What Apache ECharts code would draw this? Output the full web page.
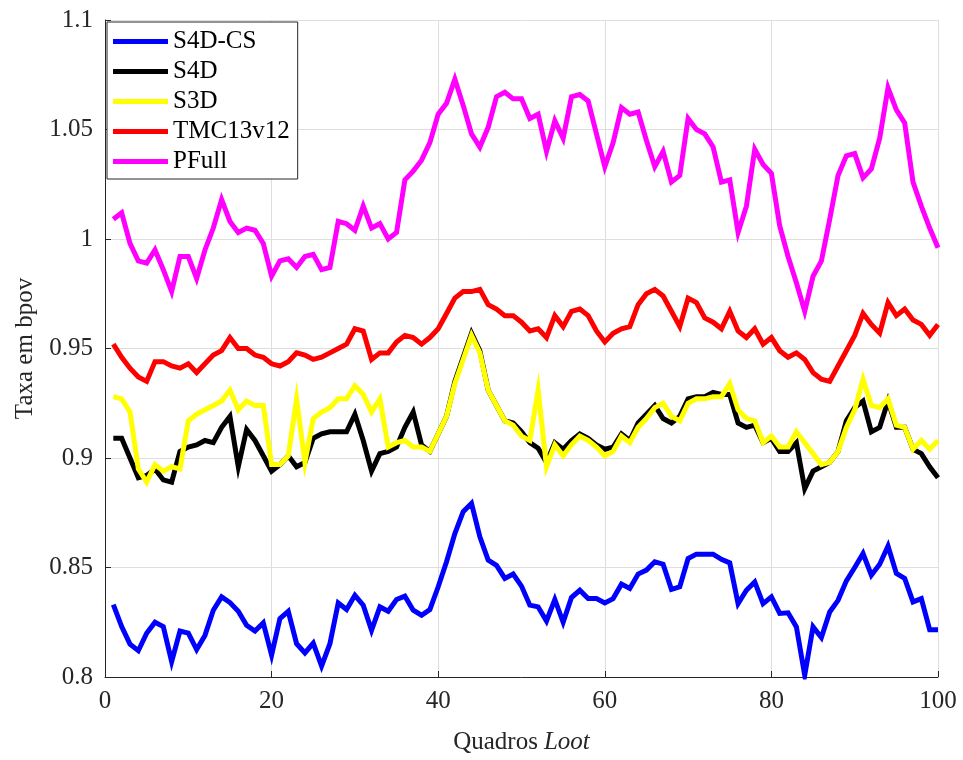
<!DOCTYPE html>
<html>
<head>
<meta charset="utf-8">
<script src="https://cdn.jsdelivr.net/npm/echarts@6/dist/echarts.min.js"></script>
<style>
html,body{margin:0;padding:0;background:#fff;}
#chart{width:963px;height:760px;}
</style>
</head>
<body>
<div id="chart"></div>
<script>
const frames = [1,2,3,4,5,6,7,8,9,10,11,12,13,14,15,16,17,18,19,20,21,22,23,24,25,26,27,28,29,30,31,32,33,34,35,36,37,38,39,40,41,42,43,44,45,46,47,48,49,50,51,52,53,54,55,56,57,58,59,60,61,62,63,64,65,66,67,68,69,70,71,72,73,74,75,76,77,78,79,80,81,82,83,84,85,86,87,88,89,90,91,92,93,94,95,96,97,98,99,100];

const s4dcs = [0.833,0.823,0.815,0.812,0.820,0.825,0.823,0.807,0.821,0.820,0.8125,0.819,0.8305,0.8366,0.834,0.830,0.8236,0.821,0.8247,0.810,0.8267,0.830,0.8152,0.811,0.8155,0.805,0.8152,0.8338,0.8308,0.8373,0.8328,0.8213,0.832,0.830,0.8354,0.8369,0.8305,0.8282,0.8308,0.8412,0.8526,0.8655,0.8755,0.8793,0.864,0.8534,0.851,0.845,0.847,0.8415,0.8328,0.832,0.8256,0.8354,0.825,0.8363,0.8396,0.8358,0.8358,0.8338,0.8358,0.8424,0.8404,0.847,0.8488,0.8526,0.8515,0.840,0.8412,0.8541,0.8561,0.8561,0.8561,0.8537,0.8521,0.8335,0.8396,0.8434,0.8335,0.8366,0.829,0.8293,0.8229,0.8008,0.8229,0.818,0.8297,0.835,0.8439,0.850,0.8564,0.8465,0.8515,0.8598,0.8473,0.845,0.8343,0.8358,0.8216,0.8216];

const s4d = [0.909,0.909,0.900,0.891,0.892,0.895,0.890,0.889,0.903,0.905,0.906,0.908,0.907,0.914,0.919,0.896,0.913,0.908,0.901,0.894,0.897,0.901,0.896,0.898,0.909,0.911,0.912,0.912,0.912,0.920,0.908,0.894,0.902,0.903,0.905,0.914,0.921,0.906,0.903,0.911,0.919,0.935,0.946,0.957,0.949,0.931,0.924,0.917,0.916,0.912,0.907,0.9045,0.898,0.907,0.904,0.908,0.911,0.909,0.906,0.904,0.905,0.911,0.908,0.916,0.920,0.924,0.918,0.916,0.919,0.927,0.928,0.928,0.930,0.929,0.929,0.916,0.914,0.915,0.907,0.909,0.903,0.903,0.907,0.886,0.894,0.896,0.898,0.903,0.917,0.923,0.926,0.912,0.914,0.926,0.914,0.914,0.904,0.902,0.896,0.891];

const s3d = [0.928,0.927,0.921,0.895,0.889,0.897,0.894,0.896,0.895,0.917,0.920,0.922,0.924,0.926,0.931,0.922,0.926,0.924,0.924,0.897,0.897,0.901,0.927,0.898,0.918,0.921,0.923,0.927,0.927,0.933,0.929,0.921,0.927,0.905,0.907,0.908,0.905,0.905,0.903,0.911,0.919,0.934,0.945,0.956,0.948,0.931,0.924,0.917,0.915,0.910,0.908,0.931,0.896,0.906,0.901,0.906,0.910,0.908,0.905,0.901,0.903,0.910,0.907,0.914,0.918,0.923,0.925,0.919,0.917,0.925,0.927,0.927,0.928,0.928,0.934,0.922,0.918,0.917,0.907,0.910,0.905,0.905,0.912,0.907,0.902,0.897,0.898,0.903,0.914,0.922,0.936,0.924,0.923,0.927,0.915,0.914,0.904,0.908,0.904,0.908];

const tmc13v12 = [0.952,0.946,0.941,0.937,0.935,0.944,0.944,0.942,0.941,0.943,0.939,0.943,0.947,0.949,0.955,0.950,0.950,0.947,0.946,0.943,0.942,0.944,0.948,0.947,0.945,0.946,0.948,0.950,0.952,0.959,0.958,0.945,0.948,0.948,0.953,0.956,0.955,0.952,0.955,0.959,0.966,0.973,0.976,0.976,0.977,0.970,0.968,0.965,0.965,0.962,0.958,0.959,0.955,0.965,0.960,0.967,0.968,0.965,0.958,0.953,0.957,0.959,0.960,0.970,0.975,0.977,0.974,0.967,0.960,0.973,0.971,0.964,0.962,0.959,0.967,0.958,0.955,0.959,0.952,0.955,0.949,0.946,0.948,0.945,0.939,0.936,0.935,0.942,0.949,0.956,0.966,0.961,0.957,0.971,0.965,0.968,0.963,0.961,0.956,0.961];

const pfull = [1.009,1.012,0.998,0.990,0.989,0.995,0.986,0.976,0.992,0.992,0.982,0.995,1.005,1.018,1.008,1.003,1.005,1.004,0.998,0.983,0.990,0.991,0.987,0.992,0.993,0.986,0.987,1.008,1.007,1.004,1.015,1.005,1.007,1.000,1.003,1.027,1.031,1.036,1.044,1.057,1.062,1.073,1.061,1.048,1.042,1.051,1.065,1.067,1.064,1.064,1.055,1.057,1.040,1.054,1.046,1.065,1.066,1.063,1.048,1.033,1.044,1.060,1.057,1.058,1.045,1.033,1.040,1.026,1.029,1.055,1.050,1.048,1.042,1.026,1.027,1.003,1.015,1.041,1.034,1.030,1.006,0.992,0.980,0.967,0.983,0.990,1.009,1.029,1.038,1.039,1.028,1.032,1.046,1.069,1.059,1.053,1.026,1.015,1.005,0.996];

const seriesNames = ['S4D-CS','S4D','S3D','TMC13v12','PFull'];
const seriesColors = ['#0000ff','#000000','#ffff00','#ff0000','#ff00ff'];
const seriesValues = [s4dcs, s4d, s3d, tmc13v12, pfull];

const FONT = '"Liberation Serif", "Times New Roman", serif';
const AX = '#262626';

const chart = echarts.init(document.getElementById('chart'), null, {renderer: 'canvas'});

chart.setOption({
  animation: false,
  backgroundColor: '#ffffff',
  textStyle: {fontFamily: FONT},
  grid: {left: 105, right: 25, top: 20, bottom: 80, containLabel: false},
  legend: {
    orient: 'vertical',
    left: 107,
    top: 22,
    backgroundColor: '#ffffff',
    borderColor: AX,
    borderWidth: 1,
    borderRadius: 0,
    padding: [7, 8, 5, 6],
    itemWidth: 55,
    itemHeight: 5,
    itemGap: 5,
    icon: 'rect',
    data: seriesNames,
    textStyle: {fontFamily: FONT, fontSize: 25, color: '#000', lineHeight: 25, padding: [0, 0, 0, 0]}
  },
  xAxis: {
    type: 'value',
    min: 0, max: 100, interval: 20,
    name: '{a|Quadros}  {b|Loot}',
    nameLocation: 'middle',
    nameGap: 53,
    nameTextStyle: {
      rich: {
        a: {fontFamily: FONT, fontSize: 25, color: AX},
        b: {fontFamily: FONT, fontSize: 25, color: AX, fontStyle: 'italic'}
      }
    },
    axisLine: {show: true, onZero: false, lineStyle: {color: AX, width: 1}},
    axisTick: {show: true, inside: true, length: 6, lineStyle: {color: AX}},
    axisLabel: {fontFamily: FONT, fontSize: 25, color: AX, margin: 12},
    splitLine: {show: true, lineStyle: {color: '#dedede', width: 1}}
  },
  yAxis: {
    type: 'value',
    min: 0.8, max: 1.1, interval: 0.05,
    name: 'Taxa em bpov',
    nameLocation: 'middle',
    nameGap: 60,
    nameTextStyle: {fontFamily: FONT, fontSize: 25, color: AX},
    axisLine: {show: true, onZero: false, lineStyle: {color: AX, width: 1}},
    axisTick: {show: true, inside: true, length: 6, lineStyle: {color: AX}},
    axisLabel: {fontFamily: FONT, fontSize: 25, color: AX, margin: 12,
      formatter: function (v) { return String(Math.round(v * 100) / 100); }},
    splitLine: {show: true, lineStyle: {color: '#dedede', width: 1}}
  },
  series: seriesNames.map(function (name, i) {
    return {
      name: name,
      type: 'line',
      showSymbol: false,
      symbol: 'none',
      color: seriesColors[i],
      lineStyle: {color: seriesColors[i], width: 5, join: 'miter'},
      data: frames.map(function (f, j) { return [f, seriesValues[i][j]]; })
    };
  })
});
</script>
</body>
</html>
